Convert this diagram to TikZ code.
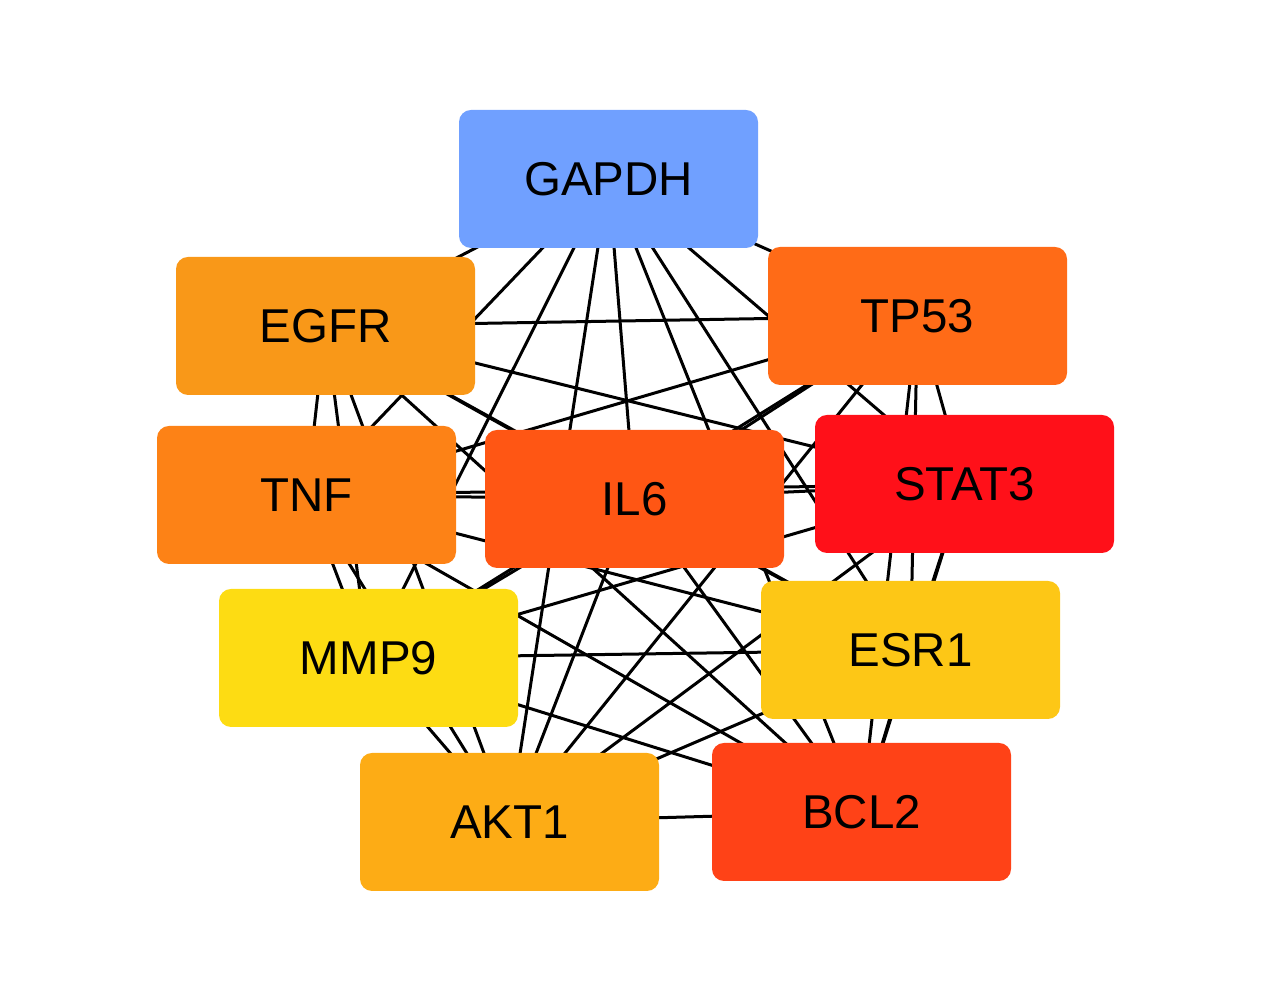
\documentclass[tikz,border=0pt]{standalone}
\usepackage{fontspec}
\setmainfont{Liberation Sans}
\usetikzlibrary{backgrounds}
\definecolor{cGAPDH}{RGB}{112,160,255}
\definecolor{cEGFR}{RGB}{249,152,24}
\definecolor{cTP53}{RGB}{255,107,23}
\definecolor{cTNF}{RGB}{253,130,22}
\definecolor{cIL6}{RGB}{255,86,20}
\definecolor{cSTAT3}{RGB}{255,16,25}
\definecolor{cMMP9}{RGB}{253,220,19}
\definecolor{cESR1}{RGB}{253,199,22}
\definecolor{cAKT1}{RGB}{253,172,21}
\definecolor{cBCL2}{RGB}{255,66,23}
\begin{document}
\begin{tikzpicture}[x=1pt,y=1pt,
  gene/.style={rounded corners=12pt, minimum width=299pt, minimum height=138pt,
    inner sep=0pt, font=\fontsize{47.5}{50}\selectfont, text=black},
  edge/.style={line width=3pt, black}]
\useasboundingbox (0,0) rectangle (1270,1003);
\node[gene, fill=cGAPDH] (gapdh) at (608.5,824) {GAPDH};
\node[gene, fill=cEGFR]  (egfr)  at (325.5,677) {EGFR};
\node[gene, fill=cTP53]  (tp53)  at (917.5,687) {TP53};
\node[gene, fill=cTNF]   (tnf)   at (306.5,508) {TNF};
\node[gene, fill=cIL6]   (il6)   at (634.5,504) {IL6};
\node[gene, fill=cSTAT3] (stat3) at (964.5,519) {STAT3};
\node[gene, fill=cMMP9]  (mmp9)  at (368.5,345) {MMP9};
\node[gene, fill=cESR1]  (esr1)  at (910.5,353) {ESR1};
\node[gene, fill=cAKT1]  (akt1)  at (509.5,181) {AKT1};
\node[gene, fill=cBCL2]  (bcl2)  at (861.5,191) {BCL2};
\begin{pgfonlayer}{background}
\foreach \a/\b in {gapdh/egfr,gapdh/tp53,gapdh/tnf,gapdh/il6,gapdh/stat3,gapdh/mmp9,gapdh/esr1,gapdh/akt1,gapdh/bcl2,
  egfr/tp53,egfr/tnf,egfr/il6,egfr/stat3,egfr/mmp9,egfr/esr1,egfr/akt1,egfr/bcl2,
  tp53/tnf,tp53/il6,tp53/stat3,tp53/mmp9,tp53/esr1,tp53/akt1,tp53/bcl2,
  tnf/il6,tnf/stat3,tnf/mmp9,tnf/esr1,tnf/akt1,tnf/bcl2,
  il6/stat3,il6/mmp9,il6/esr1,il6/akt1,il6/bcl2,
  stat3/mmp9,stat3/esr1,stat3/akt1,stat3/bcl2,
  mmp9/esr1,mmp9/akt1,mmp9/bcl2,
  esr1/akt1,esr1/bcl2,
  akt1/bcl2}
  \draw[edge] (\a.center) -- (\b.center);
\end{pgfonlayer}
\end{tikzpicture}
\end{document}
